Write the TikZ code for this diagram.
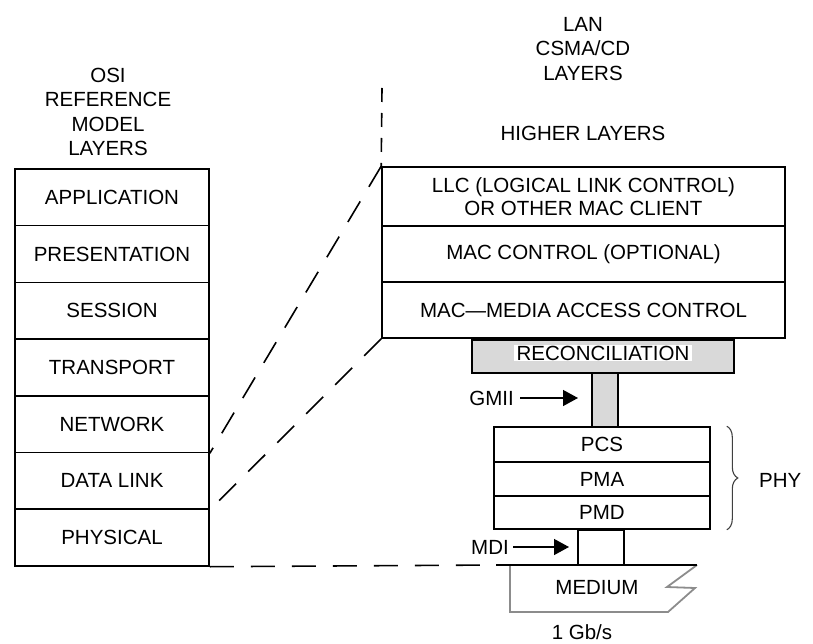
\documentclass[tikz,border=0pt]{standalone}
\usepackage{fontspec}
\setmainfont{Liberation Sans}
\usetikzlibrary{arrows.meta,decorations.pathreplacing}
\begin{document}
\begin{tikzpicture}[x=1pt,y=-1pt,
  lw/.style={line width=1.6pt},
  txt/.style={font=\fontsize{20.5}{24.5}\selectfont,inner sep=0pt,align=center},
  layerbox/.style={draw,lw,rectangle,inner sep=0pt,txt},
  osi/.style={layerbox,minimum width=194pt,minimum height=56.7pt},
  lan/.style={layerbox,minimum width=403pt},
  phy/.style={layerbox,minimum width=216pt},
  dashline/.style={lw,dash pattern=on 24pt off 17pt},
  arr/.style={line width=1.4pt,-{Triangle[length=15pt,width=16pt]}},
  gfill/.style={fill=black!15}
]
\useasboundingbox (0,0) rectangle (813,644);

% headers
\node[txt] (osihead) at (108,112) {OSI\\REFERENCE\\MODEL\\LAYERS};
\node[txt] (lanhead) at (583,49) {LAN\\CSMA/CD\\LAYERS};
\node[txt] (higher) at (583,133) {HIGHER LAYERS};

% OSI stack
\node[osi] (app)  at (112,197.35) {APPLICATION};
\node[osi] (pres) at (112,254.05) {PRESENTATION};
\node[osi] (sess) at (112,310.75) {SESSION};
\node[osi] (trans) at (112,367.45) {TRANSPORT};
\node[osi] (net)  at (112,424.15) {NETWORK};
\node[osi] (dl)   at (112,480.85) {DATA LINK};
\node[osi] (phys) at (112,537.55) {PHYSICAL};

% LAN stack
\node[lan,minimum height=59pt] (llc) at (583.5,196.5) {LLC (LOGICAL LINK CONTROL)\\[-2pt]OR OTHER MAC CLIENT};
\node[lan,minimum height=56pt] (macc) at (583.5,254) {MAC CONTROL (OPTIONAL)};
\node[lan,minimum height=56pt] (mac) at (583.5,310) {MAC---MEDIA ACCESS CONTROL};

% reconciliation
\node[draw,lw,gfill,minimum width=262pt,minimum height=33pt,inner sep=0pt] (rec) at (603,356.5) {};
\node[txt,fill=white,inner xsep=3pt,inner ysep=1pt] (rectxt) at (603,353) {RECONCILIATION};

% GMII bar
\node[draw,lw,gfill,minimum width=26pt,minimum height=54pt,inner sep=0pt] (gmiibar) at (605,400) {};

% PHY stack
\node[phy,minimum height=35pt] (pcs) at (602,444.5) {PCS};
\node[phy,minimum height=34pt] (pma) at (602,479) {PMA};
\node[phy,minimum height=33pt] (pmd) at (602,512.5) {PMD};

% MDI box
\node[draw,lw,minimum width=46pt,minimum height=35pt,inner sep=0pt] (mdibox) at (601,547.5) {};

% medium
\coordinate (mtl) at (510,565);
\coordinate (mtr) at (697,565);
\draw[line width=1.8pt,black!45,line join=miter] (mtl) -- (510,612) -- (668,612) -- (695,588) -- (667,587) -- (mtr);
\draw[lw] (496,565) -- (mtr);
\node[txt] (medium) at (597,588) {MEDIUM};
\node[txt] (speed) at (582,632) {1 Gb/s};

% labels with arrows
\node[txt,anchor=east] (gmii) at (514,398) {GMII};
\coordinate (gmiitip) at (578,398);
\draw[arr] (gmii.east) ++(6,0) -- (gmiitip);
\node[txt,anchor=east] (mdi) at (509,547) {MDI};
\coordinate (mditip) at (569,547);
\draw[arr] (mdi.east) ++(4,0) -- (mditip);

% brace
\draw[line width=1.1pt,black!75,decorate,decoration={brace,amplitude=11pt}] (pcs.north east) ++(16,0) coordinate (b1) -- (pmd.south east -| b1);
\node[txt,anchor=west] (phylbl) at (759,480) {PHY};

% dashed connectors
\coordinate (vtop) at (382,88);
\draw[lw,dash pattern=on 14pt off 11pt] (vtop) -- (llc.north west);
\draw[dashline] (llc.north west) -- (net.south east);
\draw[dashline] (mac.south west) -- (dl.south east);
\draw[dashline] (phys.south east) -- (496,565);
\end{tikzpicture}
\end{document}
